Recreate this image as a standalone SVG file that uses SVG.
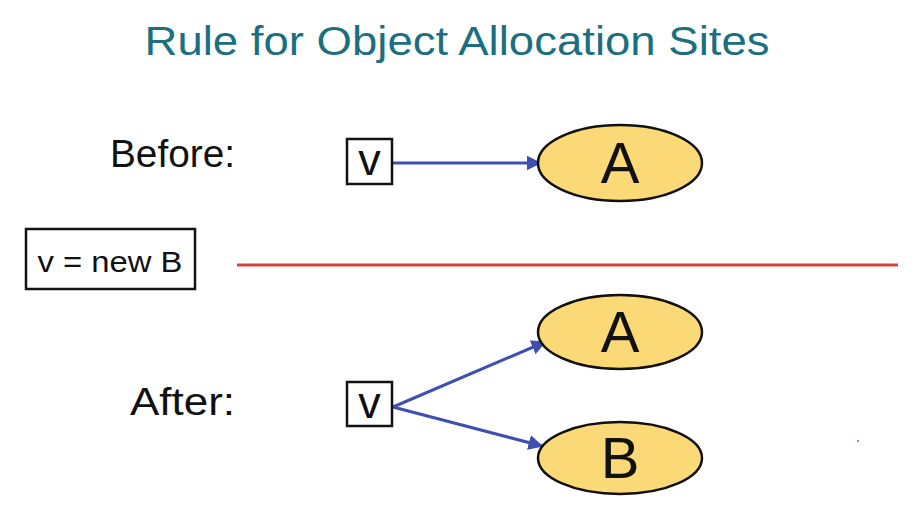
<svg xmlns="http://www.w3.org/2000/svg" width="921" height="524" viewBox="0 0 921 524">
<style>
.t{font-family:"Liberation Sans","DejaVu Sans",sans-serif;fill:#111}
.box{fill:#fff;stroke:#111;stroke-width:2.5}
.obj{fill:#fcd977;stroke:#111;stroke-width:2.5}
.edge{stroke:#3d4fb0;stroke-width:3;fill:none}
</style>
<defs>
<marker id="ah" viewBox="0 0 10 10" refX="9" refY="5" markerWidth="5" markerHeight="5" orient="auto" markerUnits="strokeWidth">
<path d="M0,0 L10,5 L0,10 z" fill="#3d4fb0"/>
</marker>
</defs>
<rect width="921" height="524" fill="#fff"/>
<text id="title" x="457" y="55" text-anchor="middle" class="t" style="fill:#1b6f80" font-size="40" textLength="625" lengthAdjust="spacingAndGlyphs">Rule for Object Allocation Sites</text>
<text id="before" x="110" y="167" class="t" font-size="38" textLength="125" lengthAdjust="spacingAndGlyphs">Before:</text>
<text id="after" x="130" y="415" class="t" font-size="38" textLength="105" lengthAdjust="spacingAndGlyphs">After:</text>
<g id="stmt">
<rect x="26" y="229" width="169" height="60" class="box"/>
<text x="110" y="272" text-anchor="middle" class="t" font-size="30" textLength="145" lengthAdjust="spacingAndGlyphs">v = new B</text>
</g>
<line id="divider" x1="237" y1="265" x2="898" y2="265" stroke="#d9433b" stroke-width="3"/>
<g id="connectors">
<line x1="392" y1="163" x2="540" y2="163" class="edge" marker-end="url(#ah)"/>
<line x1="393" y1="407" x2="545" y2="342" class="edge" marker-end="url(#ah)"/>
<line x1="393" y1="407" x2="542" y2="446" class="edge" marker-end="url(#ah)"/>
</g>
<g id="v1">
<rect x="347" y="139" width="45" height="45" class="box"/>
<text x="369.5" y="175" text-anchor="middle" class="t" font-size="45">v</text>
</g>
<g id="A1">
<ellipse cx="620" cy="163" rx="82" ry="38" class="obj"/>
<text x="620" y="183" text-anchor="middle" class="t" font-size="58">A</text>
</g>
<g id="v2">
<rect x="347" y="382" width="45" height="44" class="box"/>
<text x="369.5" y="418" text-anchor="middle" class="t" font-size="45">v</text>
</g>
<g id="A2">
<ellipse cx="620" cy="332" rx="82" ry="37" class="obj"/>
<text x="620" y="352" text-anchor="middle" class="t" font-size="58">A</text>
</g>
<g id="B">
<ellipse cx="620" cy="458" rx="82" ry="36" class="obj"/>
<text x="620" y="478" text-anchor="middle" class="t" font-size="58">B</text>
</g>
<circle cx="858" cy="441" r="1" fill="#d9433b"/>
</svg>
